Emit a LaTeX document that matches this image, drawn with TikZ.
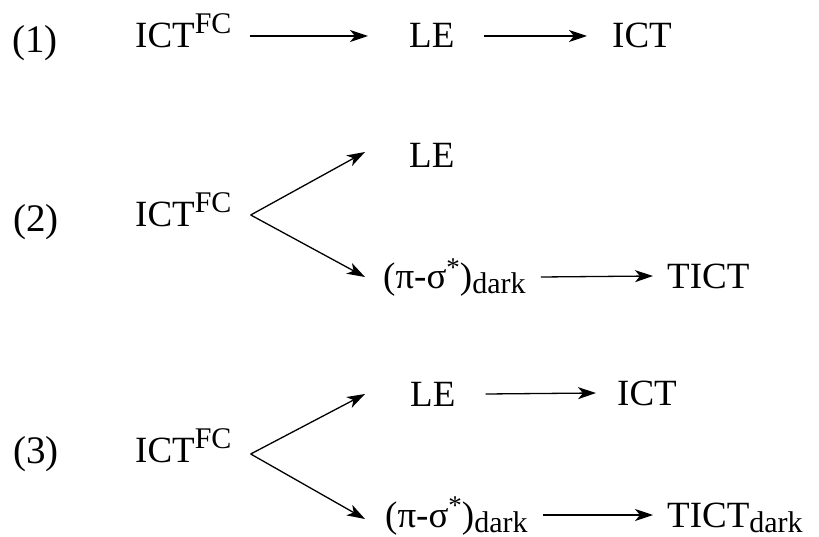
\documentclass[tikz,border=0pt]{standalone}
\usepackage{fontspec}
\setmainfont{Liberation Serif}
\usetikzlibrary{arrows.meta, positioning}

% raised and lowered labels
\newcommand{\upper}[1]{\raisebox{14pt}{\fontsize{30}{32}\selectfont #1}}
\newcommand{\lowr}[1]{\raisebox{-5pt}{\fontsize{30}{32}\selectfont #1}}
\newcommand{\pisig}{(π-σ\raisebox{13pt}{\fontsize{27}{29}\selectfont *})\lowr{dark}}

\begin{document}
\begin{tikzpicture}[x=1pt, y=-1pt,
  sp/.style={inner sep=0pt, anchor=base west, text height=24pt, text depth=0pt, font=\fontsize{37}{44}\selectfont},
  num/.style={inner sep=0pt, anchor=base west, font=\fontsize{39}{46}\selectfont},
  arr/.style={-{Stealth[length=18pt, width=12pt, inset=5pt]}, line width=1.3pt}]
\useasboundingbox (0,0) rectangle (819,537);

% (1) one path
\node[num] (n1) at (12,53) {(1)};
\node[sp] (i1) at (135,48) {ICT\upper{FC}};
\node[sp] (l1) at (409,48) {LE};
\node[sp] (c1) at (612,48) {ICT};
\draw[arr] ([xshift=18pt]i1.east) -- ([xshift=-41pt]l1.west);
\draw[arr] ([xshift=29pt]l1.east) -- ([xshift=-25pt]c1.west);

% (2) branching, dark state goes on to TICT
\node[num] (n2) at (13,232) {(2)};
\node[sp] (i2) at (135,227) {ICT\upper{FC}};
\node[sp] (l2) at (409,168) {LE};
\node[sp] (p2) at (383,289) {\pisig};
\node[sp] (t2) at (667,288) {TICT};
\coordinate (v2) at ([xshift=19pt]i2.east);
\draw[arr] (v2) -- ([xshift=-44pt, yshift=4pt]l2.west);
\draw[arr] (v2) -- ([xshift=-18pt]p2.west);
\draw[arr] ([xshift=15pt]p2.east) -- ([xshift=-14pt]t2.west);

% (3) both branches go on
\node[num] (n3) at (13,463) {(3)};
\node[sp] (i3) at (135,462) {ICT\upper{FC}};
\node[sp] (l3) at (410,406) {LE};
\node[sp] (c3) at (617,405) {ICT};
\node[sp] (p3) at (385,527) {\pisig};
\node[sp] (t3) at (667,527) {TICT\lowr{dark}};
\coordinate (v3) at ([xshift=19pt, yshift=-4pt]i3.east);
\draw[arr] (v3) -- ([xshift=-45pt]l3.west);
\draw[arr] (v3) -- ([xshift=-20pt, yshift=-4pt]p3.west);
\draw[arr] ([xshift=30pt]l3.east) -- ([xshift=-21pt]c3.west);
\draw[arr] ([xshift=15pt]p3.east) -- ([xshift=-14pt]t3.west);
\end{tikzpicture}
\end{document}
